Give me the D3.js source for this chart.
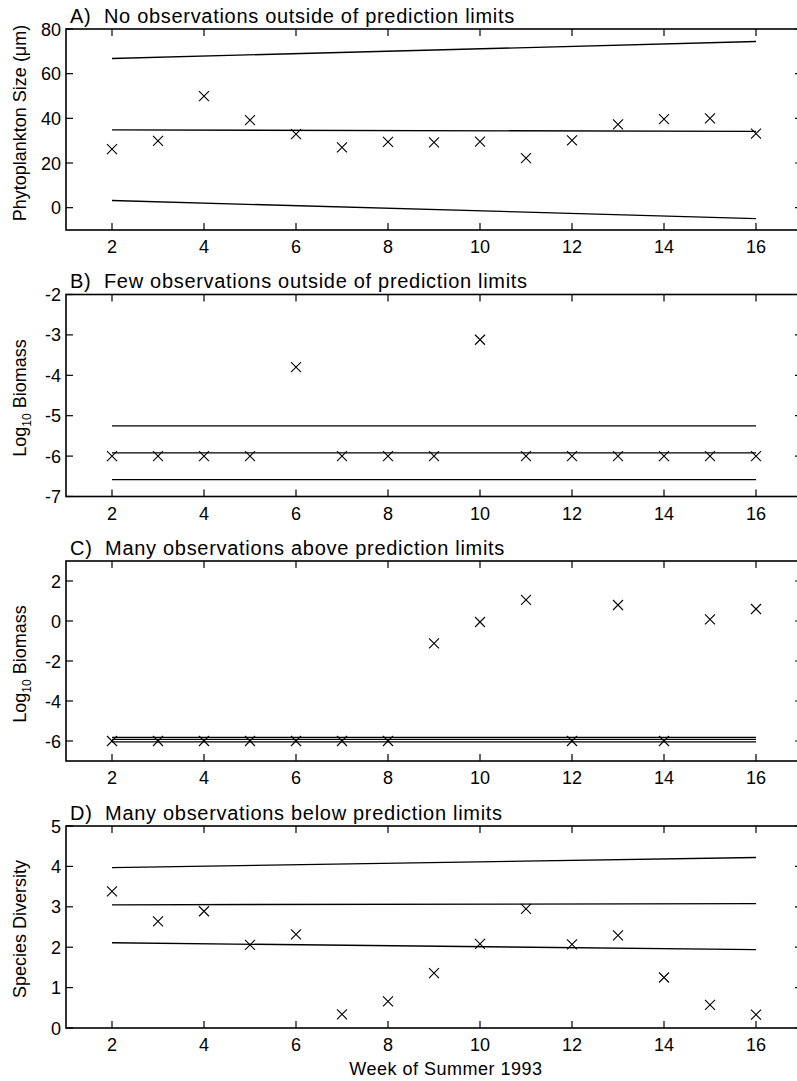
<!DOCTYPE html>
<html>
  <head>
    <meta charset="utf-8" />
    <script src="https://d3js.org/d3.v7.min.js"></script>
    <style>
        body { margin: 0; background: #fff; }
        svg { display: block; }
        text { font-family: "Liberation Sans", Arial, Helvetica, sans-serif; fill: #000; }
        .tick-label { font-size: 18px; }
        .panel-title { font-size: 20px; letter-spacing: 0.7px; white-space: pre; }
        .axis-label { font-size: 18px; }
    </style>
  </head>
  <body>

    <svg id="chart" width="797" height="1081"></svg>

    <script>

        // weeks with observations
        var weeks = [2, 3, 4, 5, 6, 7, 8, 9, 10, 11, 12, 13, 14, 15, 16];

        // observed values, one per week
        var sizeObs = [26.2, 29.9, 49.9, 39.2, 32.9, 27.0, 29.5, 29.2, 29.6, 22.2, 30.1, 37.3, 39.6, 40.0, 33.2];
        var fewObs = [-6.0, -6.0, -6.0, -6.0, -3.8, -6.0, -6.0, -6.0, -3.12, -6.0, -6.0, -6.0, -6.0, -6.0, -6.0];
        var manyObs = [-6.0, -6.0, -6.0, -6.0, -6.0, -6.0, -6.0, -1.12, -0.05, 1.06, -6.0, 0.8, -6.0, 0.08, 0.6];
        var diversityObs = [3.38, 2.64, 2.89, 2.06, 2.32, 0.34, 0.66, 1.36, 2.08, 2.95, 2.07, 2.29, 1.25, 0.57, 0.33];

        // prediction limits (start and end week)
        var limitWeeks = [2, 16];
        var sizeUpper = [66.8, 74.4], sizeMean = [34.8, 34.2], sizeLower = [3.2, -4.9];
        var fewUpper = [-5.25, -5.25], fewMean = [-5.92, -5.92], fewLower = [-6.58, -6.58];
        var manyUpper = [-5.82, -5.82], manyMean = [-5.92, -5.92], manyLower = [-6.04, -6.04];
        var divUpper = [3.97, 4.22], divMean = [3.05, 3.08], divLower = [2.11, 1.94];

        // tick labels
        var xTicks = [2, 4, 6, 8, 10, 12, 14, 16];
        var sizeTicks = [0, 20, 40, 60, 80];
        var fewTicks = [-7, -6, -5, -4, -3, -2];
        var manyTicks = [-6, -4, -2, 0, 2];
        var divTicks = [0, 1, 2, 3, 4, 5];

        var panels = [
            { title: "A)  No observations outside of prediction limits", label: "size",
              top: 29, bottom: 230, yDomain: [-10, 80], yTicks: sizeTicks, obs: sizeObs,
              limits: [sizeUpper, sizeMean, sizeLower], labelY: 123 },
            { title: "B)  Few observations outside of prediction limits", label: "log",
              top: 294.5, bottom: 496.5, yDomain: [-7, -2], yTicks: fewTicks, obs: fewObs,
              limits: [fewUpper, fewMean, fewLower], labelY: 398 },
            { title: "C)  Many observations above prediction limits", label: "log",
              top: 561, bottom: 761, yDomain: [-7, 3], yTicks: manyTicks, obs: manyObs,
              limits: [manyUpper, manyMean, manyLower], labelY: 664 },
            { title: "D)  Many observations below prediction limits", label: "Species Diversity",
              top: 826, bottom: 1028, yDomain: [0, 5], yTicks: divTicks, obs: diversityObs,
              limits: [divUpper, divMean, divLower], labelY: 929 }
        ];

        var svg = d3.select("#chart");

        var x = d3.scaleLinear().domain([1, 17]).range([66, 802]);
        var tickLen = 7;

        panels.forEach(function(p) {

            var y = d3.scaleLinear().domain(p.yDomain).range([p.bottom, p.top]);
            var g = svg.append("g");

            // box
            g.append("rect")
                .attr("x", x(1))
                .attr("y", y(p.yDomain[1]))
                .attr("width", x(17) - x(1))
                .attr("height", y(p.yDomain[0]) - y(p.yDomain[1]))
                .attr("fill", "none")
                .attr("stroke", "#000")
                .attr("stroke-width", 1.6);

            // inward ticks, top and bottom
            var xt = g.append("g");
            xTicks.forEach(function(t) {
                xt.append("line")
                    .attr("x1", x(t)).attr("x2", x(t))
                    .attr("y1", y(p.yDomain[1])).attr("y2", y(p.yDomain[1]) + tickLen)
                    .attr("stroke", "#000").attr("stroke-width", 1.2);
                xt.append("line")
                    .attr("x1", x(t)).attr("x2", x(t))
                    .attr("y1", y(p.yDomain[0])).attr("y2", y(p.yDomain[0]) - tickLen)
                    .attr("stroke", "#000").attr("stroke-width", 1.2);
                xt.append("text")
                    .attr("class", "tick-label")
                    .attr("x", x(t))
                    .attr("y", y(p.yDomain[0]) + 23)
                    .attr("text-anchor", "middle")
                    .text(t);
            });

            // inward ticks, left and right
            p.yTicks.forEach(function(t) {
                g.append("line")
                    .attr("x1", x(1)).attr("x2", x(1) + tickLen)
                    .attr("y1", y(t)).attr("y2", y(t))
                    .attr("stroke", "#000").attr("stroke-width", 1.2);
                g.append("line")
                    .attr("x1", x(17)).attr("x2", x(17) - tickLen)
                    .attr("y1", y(t)).attr("y2", y(t))
                    .attr("stroke", "#000").attr("stroke-width", 1.2);
                g.append("text")
                    .attr("class", "tick-label")
                    .attr("x", x(1) - 5)
                    .attr("y", y(t) + 6.5)
                    .attr("text-anchor", "end")
                    .text(t);
            });

            // prediction limit lines
            var line = d3.line()
                .x(function(d, i) { return x(limitWeeks[i]); })
                .y(function(d) { return y(d); });

            g.selectAll(".limit")
                .data(p.limits)
                .enter().append("path")
                .attr("class", "limit")
                .attr("d", function(d) { return line(d); })
                .attr("fill", "none")
                .attr("stroke", "#000")
                .attr("stroke-width", 1.3);

            // x markers
            var s = 5;
            g.selectAll(".obs")
                .data(p.obs)
                .enter().append("path")
                .attr("class", "obs")
                .attr("d", function(d, i) {
                    var cx = x(weeks[i]), cy = y(d);
                    return "M" + (cx - s) + "," + (cy - s) + "L" + (cx + s) + "," + (cy + s) +
                           "M" + (cx - s) + "," + (cy + s) + "L" + (cx + s) + "," + (cy - s);
                })
                .attr("fill", "none")
                .attr("stroke", "#000")
                .attr("stroke-width", 1.1);

            // title
            g.append("text")
                .attr("class", "panel-title")
                .attr("x", 70)
                .attr("y", p.top - 6.5)
                .text(p.title);

            // y label
            var yl = g.append("text")
                .attr("class", "axis-label")
                .attr("transform", "translate(26," + p.labelY + ") rotate(-90)")
                .attr("text-anchor", "middle");

            if (p.label == "size") {
                yl.text("Phytoplankton Size (\u03bcm)");
            }
            else if (p.label == "log") {
                yl.append("tspan").text("Log");
                yl.append("tspan")
                    .attr("dy", 5)
                    .attr("font-size", "12px")
                    .text("10");
                yl.append("tspan")
                    .attr("dy", -5)
                    .text(" Biomass");
            }
            else {
                yl.text(p.label);
            }
        });

        svg.append("text")
            .attr("class", "axis-label")
            .attr("x", 446)
            .attr("y", 1075)
            .attr("text-anchor", "middle")
            .style("letter-spacing", "0.5px")
            .text("Week of Summer 1993");

    </script>
  </body>
</html>
